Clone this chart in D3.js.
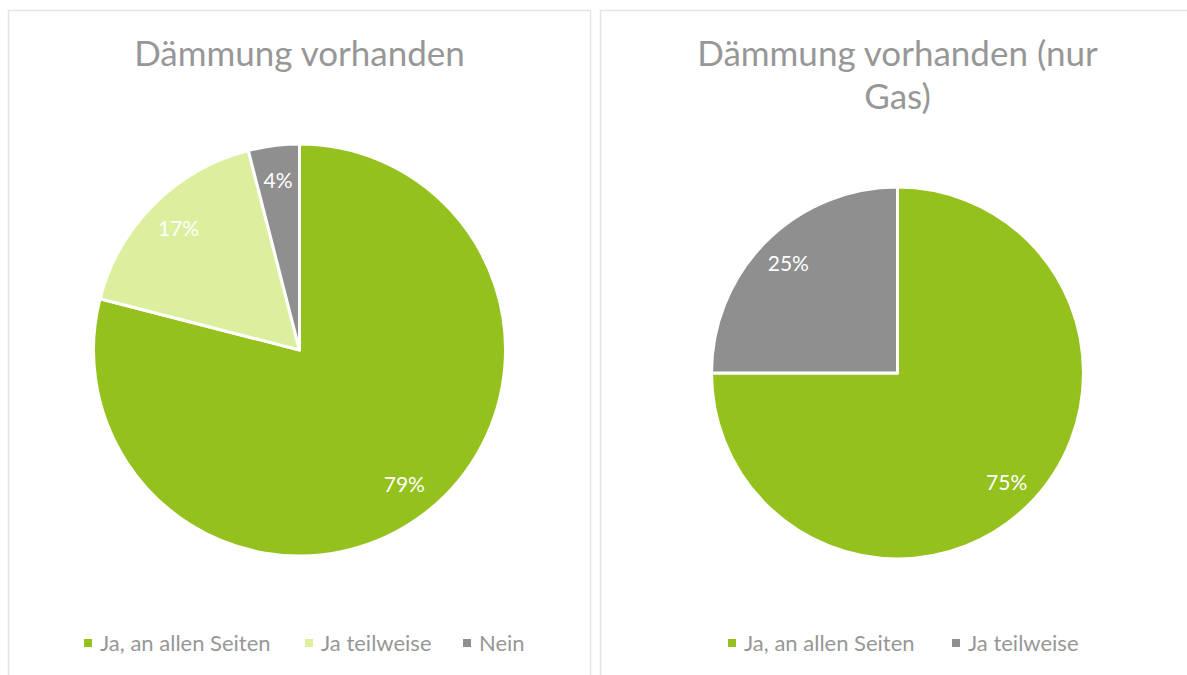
<!DOCTYPE html>
<html>
<head>
<meta charset="utf-8">
<script src="https://cdn.jsdelivr.net/npm/d3@7"></script>
<style>
  body { margin: 0; background: #fff; }
  svg { display: block; font-family: Lato, 'Open Sans', sans-serif; }
</style>
</head>
<body>
<div id="chart"></div>
<script>
// chart 1
const categories1 = ['Ja, an allen Seiten', 'Ja teilweise', 'Nein']
const values1 = [79, 17, 4]
// chart 2
const categories2 = ['Ja, an allen Seiten', 'Ja teilweise']
const values2 = [75, 25]

const titles = [['Dämmung vorhanden'], ['Dämmung vorhanden (nur', 'Gas)']]

const width = 1187
const height = 675

const svg = d3
  .select('#chart')
  .append('svg')
  .attr('width', width)
  .attr('height', height)

const colorScale1 = d3.scaleOrdinal().domain(categories1).range(['#95c11f', '#dbef9f', '#8f8f8f'])
const colorScale2 = d3.scaleOrdinal().domain(categories2).range(['#95c11f', '#8f8f8f'])

const panels = [
  { x: 8, w: 582, cx: 299.5, cy: 350, r: 206, cats: categories1, vals: values1, color: colorScale1, title: titles[0], legendX: [84, 305, 463] },
  { x: 600, w: 600, cx: 897.5, cy: 373, r: 186, cats: categories2, vals: values2, color: colorScale2, title: titles[1], legendX: [728, 952] }
]

const pie = d3.pie().sort(null).value(d => d.value)

panels.forEach(p => {
  // frame
  svg.append('rect')
    .attr('x', p.x + 0.5)
    .attr('y', 10.5)
    .attr('width', p.w)
    .attr('height', 700)
    .attr('fill', 'none')
    .attr('stroke', '#e4e4e4')
    .attr('stroke-width', 1.5)

  // title
  svg.append('text')
    .attr('text-anchor', 'middle')
    .attr('fill', '#979797')
    .attr('font-size', 35)
    .selectAll('tspan')
    .data(p.title)
    .enter()
    .append('tspan')
    .attr('x', p.cx)
    .attr('y', (d, i) => 66 + i * 43)
    .text(d => d)

  const data = p.cats.map((c, i) => ({ key: c, value: p.vals[i] }))
  const arcs = pie(data)
  const arc = d3.arc().innerRadius(0).outerRadius(p.r)
  const labelArc = d3.arc().innerRadius(p.r * 0.83).outerRadius(p.r * 0.83)

  const g = svg.append('g').attr('transform', `translate(${p.cx},${p.cy})`)

  g.selectAll('path')
    .data(arcs)
    .enter()
    .append('path')
    .attr('d', arc)
    .attr('fill', d => p.color(d.data.key))
    .attr('stroke', '#fff')
    .attr('stroke-width', 3)
    .attr('stroke-linejoin', 'round')

  g.selectAll('text')
    .data(arcs)
    .enter()
    .append('text')
    .attr('transform', d => `translate(${labelArc.centroid(d)})`)
    .attr('text-anchor', 'middle')
    .attr('dy', '0.35em')
    .attr('fill', '#fff')
    .attr('font-size', 21)
    .text(d => d.data.value + '%')

  // legend
  const legend = svg.append('g')
  legend
    .selectAll('.legend')
    .data(p.cats)
    .enter()
    .append('g')
    .attr('class', 'legend')
    .attr('transform', (d, i) => `translate(${p.legendX[i]},643)`)
    .each(function(d) {
      let lg = d3.select(this)
      lg.append('rect')
        .attr('x', 0)
        .attr('y', -4)
        .attr('width', 8)
        .attr('height', 8)
        .attr('fill', p.color(d))
      lg.append('text')
        .text(d)
        .attr('x', 16)
        .attr('dy', '0.35em')
        .attr('fill', '#979797')
        .attr('font-size', 22)
    })
})
</script>
</body>
</html>
